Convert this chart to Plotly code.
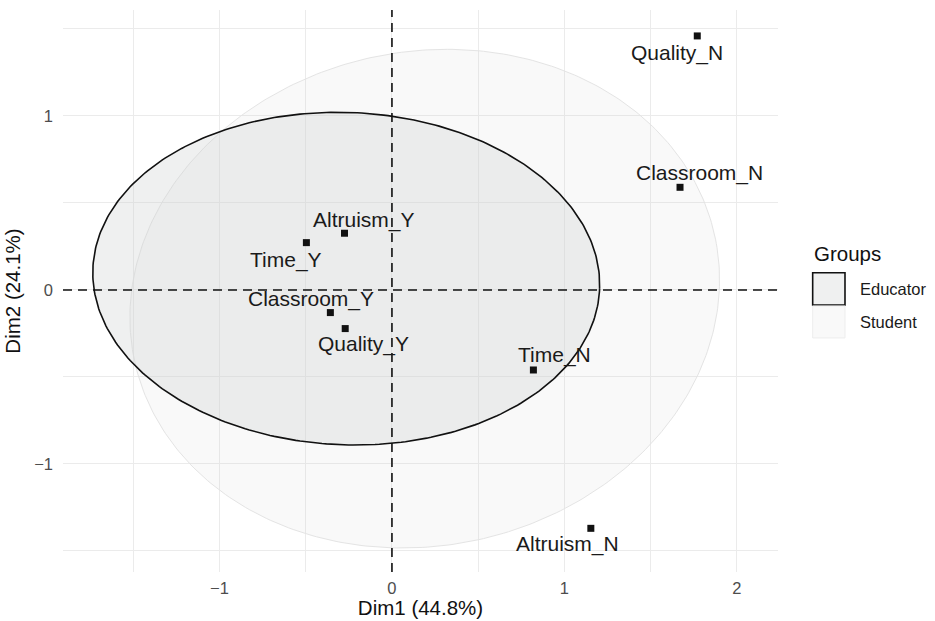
import numpy as np
import plotly.graph_objects as go

# Category coordinates on the first two MCA dimensions
categories = ["Altruism_N", "Altruism_Y", "Classroom_N", "Classroom_Y",
              "Quality_N", "Quality_Y", "Time_N", "Time_Y"]
dim1 = [1.153, -0.275, 1.67, -0.357, 1.77, -0.271, 0.82, -0.496]
dim2 = [-1.37, 0.326, 0.59, -0.13, 1.46, -0.222, -0.46, 0.272]

# Group confidence ellipses (centre, semi-axes, rotation in radians)
groups = ["Educator", "Student"]
ell_cx = [-0.265, 0.19]
ell_cy = [0.065, -0.05]
ell_a = [1.47, 1.72]
ell_b = [0.955, 1.42]
ell_angle = [-0.04, 0.20]

# Axis ticks
x_ticks = [-1, 0, 1, 2]
x_tick_text = ["\u22121", "0", "1", "2"]
y_ticks = [-1, 0, 1]
y_tick_text = ["\u22121", "0", "1"]
x_title = "Dim1 (44.8%)"
y_title = "Dim2 (24.1%)"
legend_title = "Groups"

# Label offsets (pixels) for each category text relative to its point
label_dx = {"Altruism_N": -23, "Altruism_Y": 19, "Classroom_N": 19, "Classroom_Y": -19,
            "Quality_N": -20, "Quality_Y": 18, "Time_N": 21, "Time_Y": -20}
label_dy = {"Altruism_N": -16, "Altruism_Y": 13, "Classroom_N": 14, "Classroom_Y": 14,
            "Quality_N": -17, "Quality_Y": -15, "Time_N": 15, "Time_Y": -17}

FONT = "Liberation Sans, Arial, Helvetica, sans-serif"
GRID = "#EBEBEB"

ell_style = {
    "Educator": dict(fill="rgba(205,207,207,0.32)", line="#111111", width=1.6),
    "Student": dict(fill="rgba(200,200,200,0.11)", line="#E4E4E4", width=1.0),
}

fig = go.Figure()

t = np.linspace(0, 2 * np.pi, 361)
# Student first so the Educator ellipse sits on top
for i in [1, 0]:
    g = groups[i]
    th = ell_angle[i]
    ex = ell_cx[i] + ell_a[i] * np.cos(t) * np.cos(th) - ell_b[i] * np.sin(t) * np.sin(th)
    ey = ell_cy[i] + ell_a[i] * np.cos(t) * np.sin(th) + ell_b[i] * np.sin(t) * np.cos(th)
    st = ell_style[g]
    fig.add_trace(go.Scatter(
        x=ex, y=ey, mode="lines", fill="toself", fillcolor=st["fill"],
        line=dict(color=st["line"], width=st["width"]), name=g,
        hoverinfo="skip", showlegend=False))

fig.add_trace(go.Scatter(
    x=dim1, y=dim2, mode="markers", text=categories,
    marker=dict(symbol="square", size=7, color="#111111"),
    showlegend=False, hoverinfo="text"))

for c, xv, yv in zip(categories, dim1, dim2):
    fig.add_annotation(x=xv, y=yv, text=c, showarrow=False,
                       xshift=label_dx[c], yshift=label_dy[c],
                       font=dict(family=FONT, size=21, color="#1A1A1A"))

# Dashed reference lines through the origin
fig.add_hline(y=0, line=dict(color="#111111", width=1.6, dash="9px,6px"), layer="above")
fig.add_vline(x=0, line=dict(color="#111111", width=1.6, dash="9px,6px"), layer="above")

# Legend drawn as keys and text beside the panel
key_x0, key_x1 = 1.0485, 1.0937
key_rows = [(0.475, 0.5326), (0.4164, 0.4733)]
key_fill = ["rgba(205,207,207,0.32)", "rgba(200,200,200,0.11)"]
key_line = [dict(color="#111111", width=1.6), dict(color="#EDEDED", width=1)]
fig.add_annotation(xref="paper", yref="paper", x=1.047, y=0.5676, xanchor="left",
                   yanchor="middle", text=legend_title, showarrow=False,
                   font=dict(family=FONT, size=20.5, color="#111111"))
for i, g in enumerate(groups):
    y0, y1 = key_rows[i]
    fig.add_shape(type="rect", xref="paper", yref="paper", x0=key_x0, x1=key_x1,
                  y0=y0, y1=y1, fillcolor=key_fill[i], line=key_line[i])
    fig.add_annotation(xref="paper", yref="paper", x=1.112, y=(y0 + y1) / 2,
                       xanchor="left", yanchor="middle", text=g, showarrow=False,
                       font=dict(family=FONT, size=16.5, color="#1A1A1A"))

axis_common = dict(
    showgrid=True, gridcolor=GRID, gridwidth=1, zeroline=False, showline=False,
    ticks="", tickfont=dict(family=FONT, size=16.5, color="#4D4D4D"),
    automargin=False,
)

fig.update_layout(
    width=935, height=621,
    margin=dict(l=63, r=157, t=10, b=49),
    paper_bgcolor="white", plot_bgcolor="white",
    xaxis=dict(range=[-1.907, 2.238], tickmode="array", tickvals=x_ticks,
               ticktext=x_tick_text, ticklabelstandoff=4,
               minor=dict(tickmode="linear", tick0=0, dtick=0.5, showgrid=True,
                          gridcolor=GRID, gridwidth=1),
               title=dict(text=x_title, standoff=5,
                          font=dict(family=FONT, size=20.5, color="#111111")),
               **axis_common),
    yaxis=dict(range=[-1.621, 1.609], tickmode="array", tickvals=y_ticks,
               ticktext=y_tick_text, ticklabelstandoff=9,
               minor=dict(tickmode="linear", tick0=0, dtick=0.5, showgrid=True,
                          gridcolor=GRID, gridwidth=1),
               title=dict(text=y_title, standoff=8,
                          font=dict(family=FONT, size=20.5, color="#111111")),
               **axis_common),
    showlegend=False,
)

fig.write_html("out.html")
